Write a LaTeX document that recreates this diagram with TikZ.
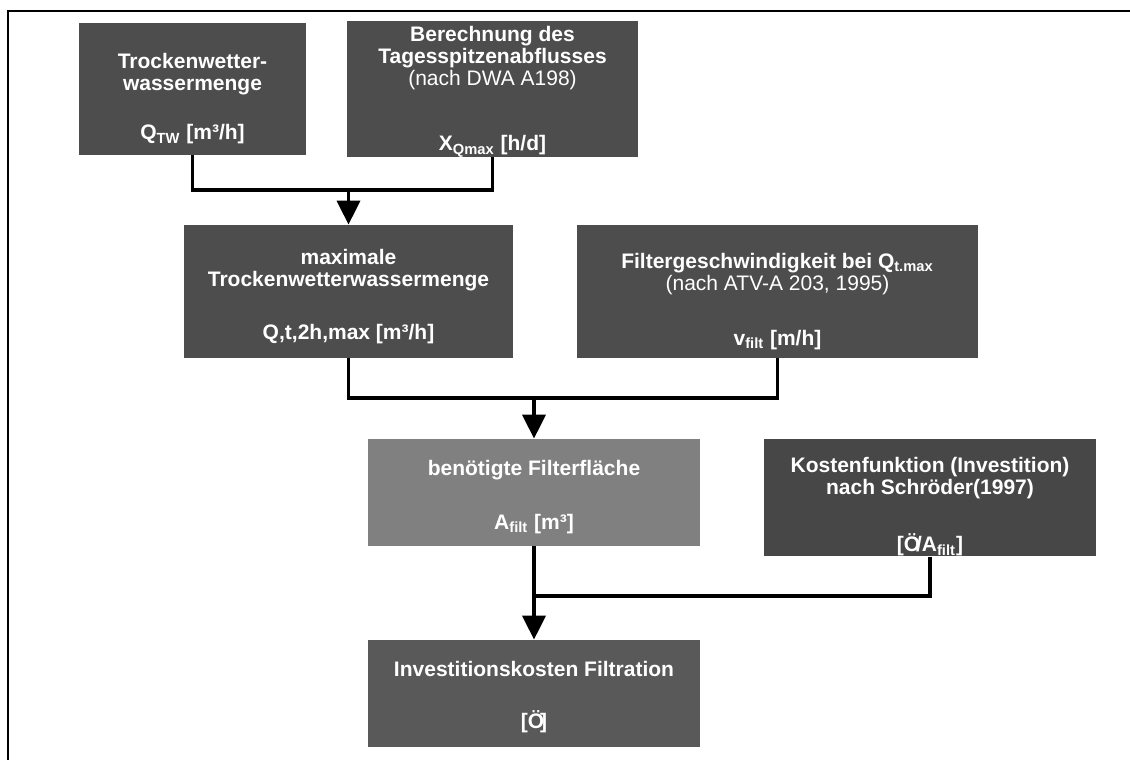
\documentclass[tikz,border=0pt]{standalone}
\usepackage{fontspec}
\setmainfont{Liberation Sans}
\usepackage{tikz}
\usetikzlibrary{arrows.meta}
\definecolor{boxgrey}{HTML}{4D4D4D}
\definecolor{costgrey}{HTML}{474747}
\definecolor{invgrey}{HTML}{595959}
\definecolor{areagrey}{HTML}{808080}
\newcommand\topspace[1]{\rule{0pt}{#1}}

\begin{document}
\begin{tikzpicture}[x=0.5pt,y=-0.5pt,
	box/.style={fill=#1, text=white, inner sep=0pt, align=center,
		font=\bfseries\fontsize{10.5}{11}\selectfont},
	link/.style={line width=1.8pt},
	feed/.style={link, -{Triangle[width=11.5pt,length=12pt]}}]
			%%%%% START %%%%%
			
			\useasboundingbox (0,0) rectangle (1130,760);
			\draw[line width=1pt] (1130,11) -- (8,11) -- (8,760);
			
			\node[box=boxgrey, minimum width=113.5pt, minimum height=66pt] (tw) at (192.5,89)
				{\topspace{17.6pt}Trockenwetter-\\wassermenge\\[13.5pt]Q\textsubscript{TW} [m³/h]};
			\node[box=boxgrey, minimum width=145.5pt, minimum height=66pt] (xq) at (492.5,89)
				{\topspace{10.5pt}Berechnung des\\Tagesspitzenabflusses\\{\mdseries (nach DWA A198)}\\[21.5pt]X\textsubscript{Qmax} [h/d]};
			
			\node[box=boxgrey, minimum width=164.5pt, minimum height=66.5pt] (qmax) at (348.5,291.5)
				{\topspace{13pt}maximale\\Trockenwetterwassermenge\\[15.5pt]Q,t,2h,max [m³/h]};
			\node[box=boxgrey, minimum width=200.5pt, minimum height=66.5pt] (vfilt) at (777.5,291.5)
				{\topspace{17.6pt}Filtergeschwindigkeit bei Q\textsubscript{t.max}\\{\mdseries (nach ATV-A 203, 1995)}\\[16.5pt]v\textsubscript{filt} [m/h]};
			
			\node[box=areagrey, minimum width=166pt, minimum height=53.5pt] (area) at (534,492.5)
				{\topspace{12pt}benötigte Filterfläche\\[16pt]A\textsubscript{filt} [m³]};
			\node[box=costgrey, minimum width=166pt, minimum height=53.5pt] (cost) at (930,497.5)
				{\topspace{17pt}Kostenfunktion (Investition)\\nach Schröder(1997)\\[16.5pt][Ö\kern-0.2em/A\textsubscript{filt}]};
			
			\node[box=invgrey, minimum width=166pt, minimum height=53.5pt] (inv) at (534,693.5)
				{\topspace{11pt}Investitionskosten Filtration\\[15pt][Ö\kern-0.2em]};
			
			\coordinate (j1) at (qmax.north |- 0,190);
			\coordinate (j2) at (area.north |- 0,398);
			\coordinate (j3) at (area.south |- 0,596);
			
			\draw[link] (tw.south) |- (j1) -| (xq.south);
			\draw[feed] (j1) -- (qmax.north);
			
			\draw[link] (qmax.south) |- (j2) -| (vfilt.south);
			\draw[feed] (j2) -- (area.north);
			
			\draw[link] (cost.south) |- (j3);
			\draw[feed] (area.south) -- (inv.north);
			
			%%%%% END %%%%%
\end{tikzpicture}
\end{document}
